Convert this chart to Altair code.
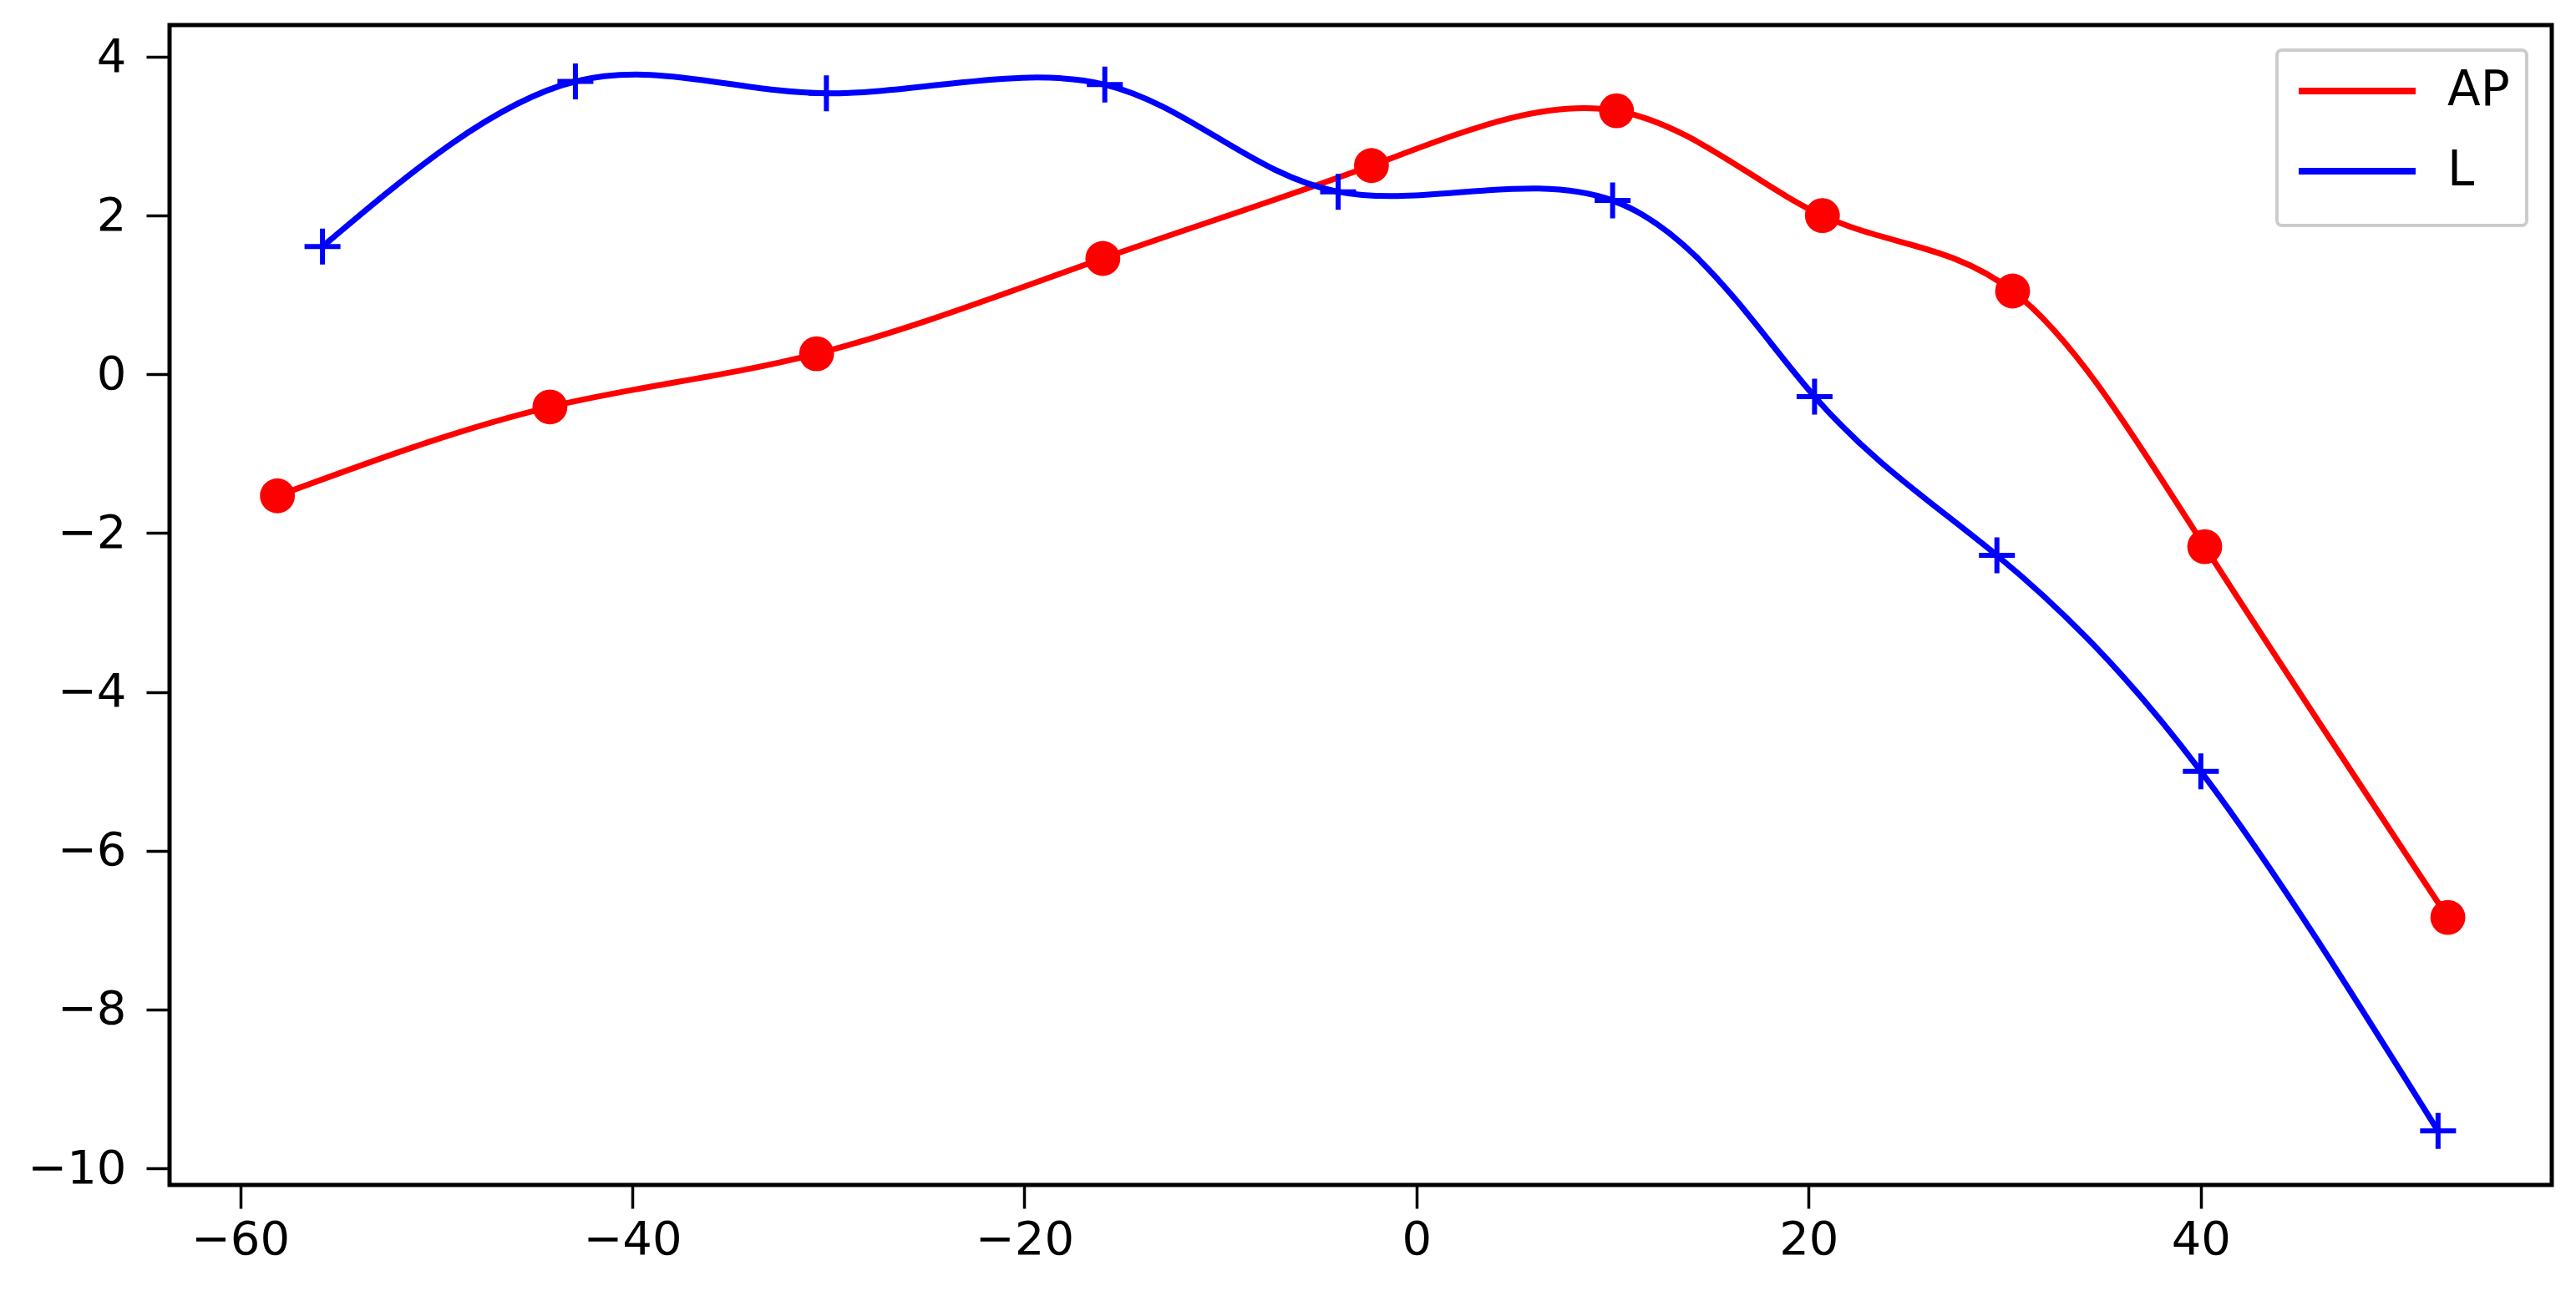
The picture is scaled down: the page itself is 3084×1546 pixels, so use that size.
import altair as alt
import pandas as pd

# Series
ap_x = [-58.1, -44.2, -30.6, -16.0, -2.3, 10.2, 20.7, 30.4, 40.2, 52.6]
ap_y = [-1.53, -0.41, 0.26, 1.46, 2.63, 3.32, 2.00, 1.05, -2.17, -6.84]
l_x = [-55.8, -42.9, -30.1, -15.9, -4.0, 10.0, 20.3, 29.6, 40.0, 52.1]
l_y = [1.61, 3.69, 3.54, 3.65, 2.30, 2.19, -0.28, -2.28, -5.00, -9.53]

series_names = ["AP", "L"]
series_colors = ["#ff0000", "#0000ff"]
x_ticks = [-60, -40, -20, 0, 20, 40]
y_ticks = [-10, -8, -6, -4, -2, 0, 2, 4]
x_domain = [-63.6, 57.9]
y_domain = [-10.21, 4.4]

ap = pd.DataFrame({"x": ap_x, "y": ap_y, "series": "AP"})
lo = pd.DataFrame({"x": l_x, "y": l_y, "series": "L"})

FONT = "DejaVu Sans"

xs = alt.Scale(domain=x_domain, nice=False, zero=False)
ys = alt.Scale(domain=y_domain, nice=False, zero=False)

x_axis = alt.Axis(values=x_ticks, format="d", title=None, grid=False, domain=False,
                  tickSize=28, tickWidth=3.5, tickColor="black",
                  labelFont=FONT, labelFontSize=56, labelColor="black",
                  labelPadding=10, labelFlush=False)
y_axis = alt.Axis(values=y_ticks, format="d", title=None, grid=False, domain=False,
                  tickSize=28, tickWidth=3.5, tickColor="black",
                  labelFont=FONT, labelFontSize=56, labelColor="black",
                  labelPadding=24, labelFlush=False)

color = alt.Color("series:N",
                  scale=alt.Scale(domain=series_names, range=series_colors),
                  legend=alt.Legend(title=" ", titleOrient="bottom", titleFontSize=10,
                                    titlePadding=6,
                                    orient="top-right", offset=30,
                                    symbolType="M-3,0L3,0", symbolSize=2178,
                                    symbolStrokeWidth=8, symbolOffset=47,
                                    labelFont=FONT, labelFontSize=58,
                                    labelColor="black", labelOffset=79,
                                    padding=20, rowPadding=38,
                                    fillColor="white", strokeColor="#cccccc",
                                    cornerRadius=6))

ap_line = alt.Chart(ap).mark_line(interpolate="natural", strokeWidth=7).encode(
    x=alt.X("x:Q", scale=xs, axis=x_axis),
    y=alt.Y("y:Q", scale=ys, axis=y_axis),
    color=color,
)
ap_pts = alt.Chart(ap).mark_point(shape="circle", filled=True, size=1750, opacity=1).encode(
    x=alt.X("x:Q", scale=xs),
    y=alt.Y("y:Q", scale=ys),
    color=alt.value("#ff0000"),
)
l_line = alt.Chart(lo).mark_line(interpolate="natural", strokeWidth=7).encode(
    x=alt.X("x:Q", scale=xs),
    y=alt.Y("y:Q", scale=ys),
    color=color,
)
l_pts = alt.Chart(lo).mark_point(shape="M-1,0L1,0M0,-1L0,1", filled=False,
                                 size=1850, strokeWidth=6, opacity=1).encode(
    x=alt.X("x:Q", scale=xs),
    y=alt.Y("y:Q", scale=ys),
    color=alt.value("#0000ff"),
)

chart = alt.layer(ap_line, ap_pts, l_line, l_pts).properties(
    width=2852, height=1389,
    autosize=alt.AutoSizeParams(type="none"),
    padding={"left": 195, "top": 22, "right": 20, "bottom": 110},
    background="white",
).configure_view(stroke="black", strokeWidth=5).configure_legend(strokeWidth=4)

chart.save("out.html", embed_options={"renderer": "svg", "actions": False})
